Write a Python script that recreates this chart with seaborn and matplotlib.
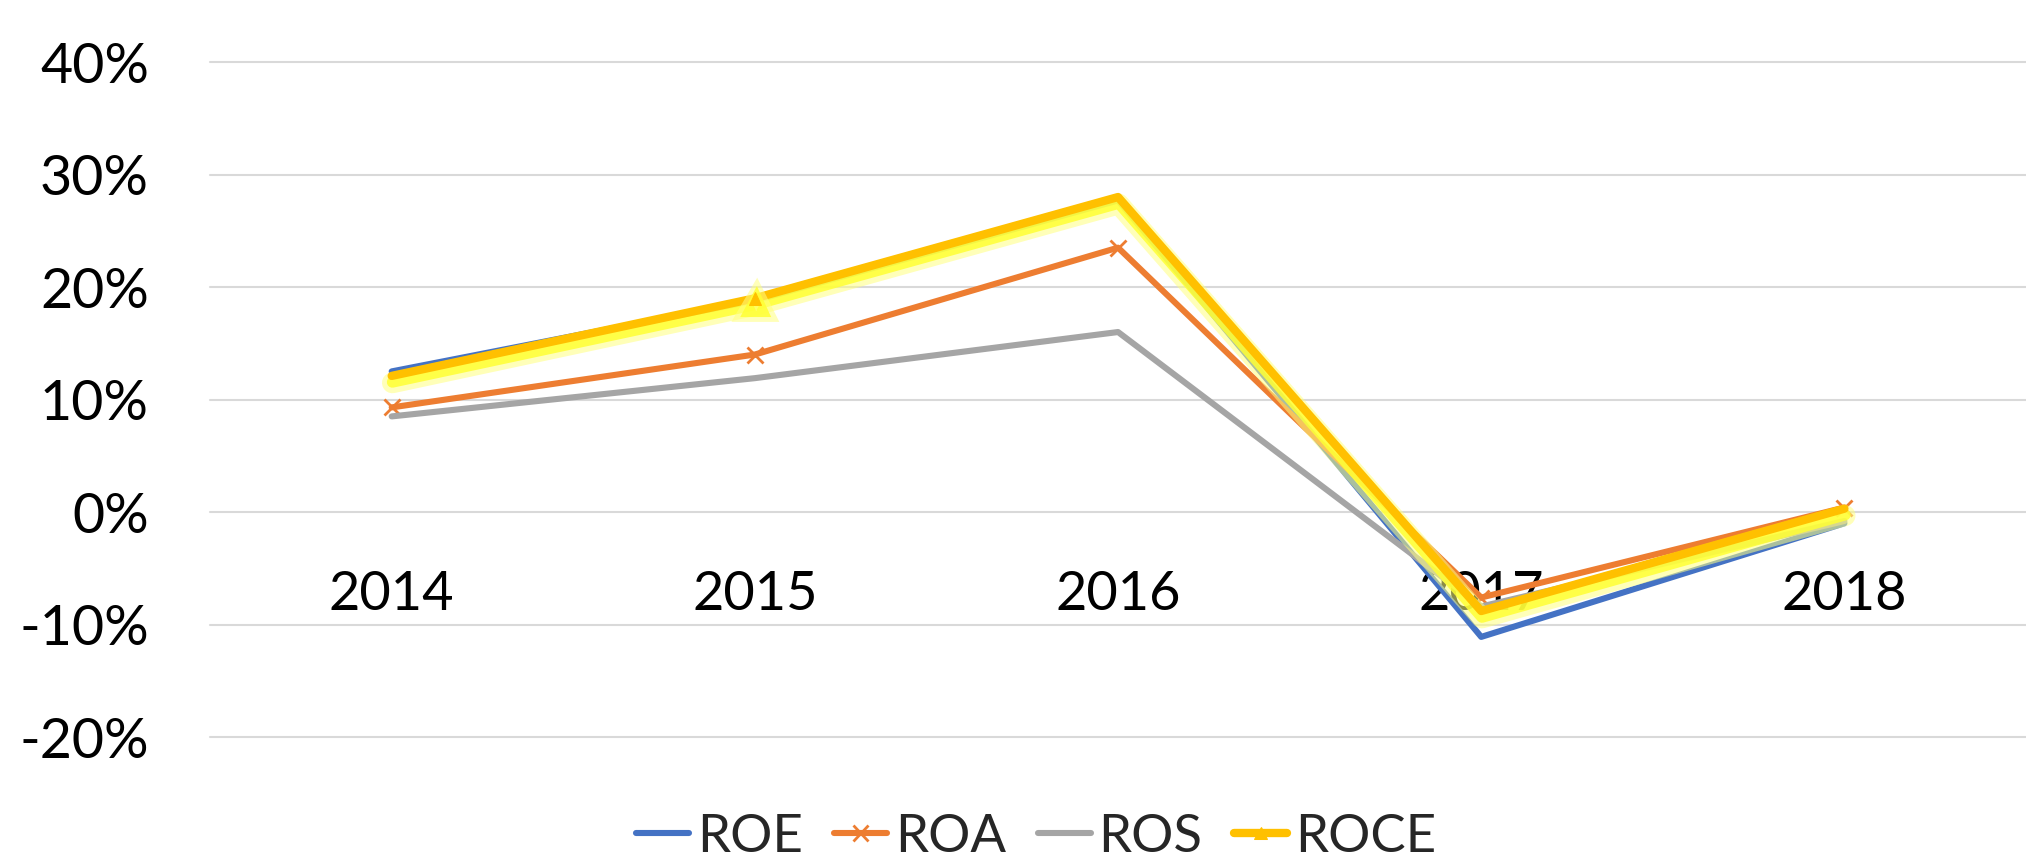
import pandas as pd
import matplotlib
matplotlib.use("Agg")
import matplotlib.pyplot as plt
import matplotlib.patheffects as pe
from matplotlib.ticker import FuncFormatter
import seaborn as sns

years = ["2014", "2015", "2016", "2017", "2018"]
roe = [0.125, 0.188, 0.277, -0.111, -0.010]
roa = [0.093, 0.140, 0.235, -0.076, 0.004]
ros = [0.085, 0.119, 0.160, -0.084, -0.008]
roce = [0.121, 0.190, 0.280, -0.088, 0.003]
names = ["ROE", "ROA", "ROS", "ROCE"]

df = pd.DataFrame({"year": years * 4,
                   "value": roe + roa + ros + roce,
                   "series": sum([[n] * 5 for n in names], [])})

sns.set_theme(style="white")
plt.rcParams['font.family'] = ['Lato', 'DejaVu Sans']

fig = plt.figure(figsize=(20.26, 8.58), dpi=100)
ax = fig.add_axes([0.1037, 0.141, 0.8963, 0.7867])

styles = {
    "ROE": dict(color="#4472C4", linewidth=4.4),
    "ROA": dict(color="#ED7D31", linewidth=4.4, marker="x", markersize=11,
                markeredgewidth=2.0, markeredgecolor="#ED7D31"),
    "ROS": dict(color="#A5A5A5", linewidth=4.4),
    "ROCE": dict(color="#FFC000", linewidth=6.0, marker="^", markersize=9, markevery=[1],
                 markeredgecolor="#FFC000", markerfacecolor="#FFC000"),
}

handles = []
for n in names:
    sub = df[df.series == n]
    sns.lineplot(data=sub, x="year", y="value", ax=ax, legend=False, sort=False, **styles[n])
    handles.append(ax.lines[-1])

glow = handles[-1]
glow.set_path_effects([
    pe.SimpleLineShadow(offset=(0.5, -5), shadow_color="#FFFF80", alpha=0.55, linewidth=15),
    pe.SimpleLineShadow(offset=(0.5, -4.5), shadow_color="#FFFF33", alpha=0.85, linewidth=8),
    pe.Normal(),
])

ax.set_xlim(-0.5, 4.5)
ax.set_ylim(-0.2, 0.4)
ax.set_yticks([-0.2, -0.1, 0, 0.1, 0.2, 0.3, 0.4])
ax.yaxis.set_major_formatter(FuncFormatter(lambda v, p: f"{round(v * 100):.0f}%"))
ax.grid(axis="y", color="#D9D9D9", lw=1.5)
ax.grid(axis="x", visible=False)
for gl in ax.get_ygridlines():
    gl.set_clip_on(False)

for s in ax.spines.values():
    s.set_visible(False)
ax.spines["bottom"].set_position(("data", 0))

ax.tick_params(axis="x", length=0, pad=42, labelsize=39, labelcolor="black")
ax.tick_params(axis="y", length=0, pad=44, labelsize=40, labelcolor="black")
ax.set_xlabel("")
ax.set_ylabel("")

leg = ax.legend(handles, names, loc="center", bbox_to_anchor=(1036 / 2026, 1 - 837 / 858),
                bbox_transform=fig.transFigure, ncol=4, frameon=False, fontsize=38,
                handlelength=1.0, handletextpad=0.15, columnspacing=0.6,
                borderaxespad=0, borderpad=0)
for h in leg.get_lines():
    h.set_path_effects([pe.Normal()])

fig.savefig("out.png", dpi=100)
